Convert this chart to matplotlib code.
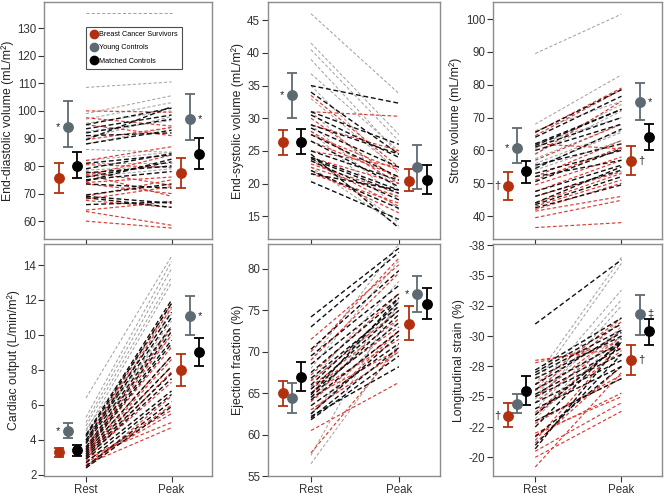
import numpy as np
import matplotlib.pyplot as plt

plt.rcParams['font.family'] = ['Liberation Sans', 'DejaVu Sans']

groups = ['Breast Cancer Survivors', 'Young Controls', 'Matched Controls']
phases = ['Rest', 'Peak']

# ---- individual subjects (rest -> peak) ----
edv_rest_bcs = [100, 97.5, 95, 89.5, 82, 80.5, 78, 76.5, 74, 73.5, 69, 68, 67.5, 64, 63.5, 60, 77]
edv_peak_bcs = [99.5, 94.5, 91, 94, 87, 79.5, 73, 84, 76, 70, 75, 72.5, 65, 67, 58.5, 57.5, 69]
edv_rest_yc = [135.5, 108.5, 99, 97, 95.5, 92.5, 90, 88, 86, 82, 81, 78.5, 76]
edv_peak_yc = [135.5, 110.5, 105.5, 103, 100, 96.5, 98, 94, 85, 85, 81, 80, 79]
edv_rest_mc = [95, 93.5, 92, 91, 89.5, 88, 81, 79, 77.5, 76, 75, 74.5, 73.5, 69.5, 69, 68.5, 66]
edv_peak_mc = [101, 98.5, 97, 92, 101.5, 93, 84, 84.5, 80, 81.5, 78, 82.5, 72, 73.5, 66.5, 65, 67]

esv_rest_bcs = [33.5, 31, 30, 29, 27.5, 26.5, 25, 24, 23.5, 23, 22.5, 22, 21.5, 28]
esv_peak_bcs = [22.5, 30.3, 20.5, 25, 22, 21, 22.5, 20, 16.5, 18.5, 18, 15.5, 17, 20]
esv_rest_yc = [46, 41.5, 40.5, 39, 36.8, 35, 33, 31, 29, 28, 24, 22.5]
esv_peak_yc = [33.8, 27.5, 26.5, 24.5, 25, 21.5, 22, 19, 17.5, 16, 14, 13.5]
esv_rest_mc = [35, 34, 31, 30.5, 29, 28.5, 27.5, 26.5, 25, 24, 23.8, 23.5, 22, 21.5, 20.3, 24.5]
esv_peak_mc = [32.3, 24.5, 26, 24, 24.5, 22.5, 21, 19.5, 20.5, 19, 18.5, 17.5, 16.2, 19, 14.5, 13.2]

sv_rest_bcs = [65.5, 64.5, 62, 58.8, 57, 52, 51, 49.5, 47.5, 46, 44, 43, 42, 41.5, 39.5, 36.5]
sv_peak_bcs = [79, 78.5, 60.5, 75, 68, 63, 61, 58, 57, 53.5, 53, 51, 50, 46, 44.8, 38]
sv_rest_yc = [89.5, 68, 66, 62, 59, 57.5, 56, 55, 54, 60.5]
sv_peak_yc = [101.5, 83, 75, 70, 72, 68, 66, 65.5, 63, 74]
sv_rest_mc = [65.5, 64, 62, 61.5, 61, 60, 55.5, 54.5, 53, 52, 50.5, 47.5, 46, 44, 43.5, 42.5]
sv_peak_mc = [78.5, 76.5, 72.5, 72.5, 70, 68, 62, 66.5, 60, 57, 60.5, 55.5, 54, 55, 52, 49.5]

co_rest_bcs = [4.0, 3.8, 3.6, 3.5, 3.4, 3.3, 3.2, 3.1, 3.0, 2.9, 2.8, 2.7, 2.6, 2.5, 3.0, 2.4]
co_peak_bcs = [11.8, 11.6, 10.4, 10.0, 9.3, 8.8, 8.6, 8.2, 7.3, 7.9, 5.7, 5.5, 4.7, 6.0, 5.0, 6.5]
co_rest_yc = [6.4, 5.3, 5.0, 4.8, 4.5, 4.3, 4.2, 4.0, 3.9, 4.6]
co_peak_yc = [14.5, 14.2, 13.8, 13.3, 13.0, 11.2, 10.5, 10.0, 10.8, 11.5]
co_rest_mc = [4.3, 4.2, 4.0, 3.9, 3.8, 3.6, 3.5, 3.4, 3.3, 3.2, 3.1, 3.0, 2.9, 2.7, 2.5, 2.4]
co_peak_mc = [12.0, 11.8, 11.3, 11.0, 10.5, 10.2, 9.7, 9.5, 8.8, 8.2, 7.8, 7.5, 6.8, 6.6, 6.2, 5.9]

ef_rest_bcs = [71.5, 70, 69, 67.2, 66.5, 65.8, 65.5, 65, 64.5, 64, 63, 60.5, 57.8, 62.5]
ef_peak_bcs = [80.5, 81.3, 79.5, 77, 75, 74, 73, 71.5, 70.3, 72.5, 70, 66.3, 70.5, 72.5]
ef_rest_yc = [69, 68, 66.5, 65, 64, 62.5, 57.5, 56.5, 66.5, 63]
ef_peak_yc = [83, 81, 78.5, 76, 75.5, 74, 76.5, 71, 75, 70]
ef_rest_mc = [74.2, 73, 70.3, 69.5, 68.5, 67.5, 66.8, 66, 65.5, 65, 64.5, 64.2, 63.5, 62.5, 62, 61.8, 62.2, 64.8]
ef_peak_mc = [82.5, 82, 79.8, 78, 77, 76.5, 75.5, 76, 75, 73.5, 74.5, 72.5, 71, 72, 70.5, 69.5, 68.2, 76.5]

ls_rest_bcs = [-28, -27.8, -26, -25.5, -25, -24.5, -23.7, -23.5, -23, -22.8, -22, -21.8, -21.2, -20.5, -20, -19.2, -21.4]
ls_peak_bcs = [-29, -29.5, -31.5, -31.2, -30.5, -30, -29.5, -28.8, -26.5, -26.8, -25, -25.3, -27.5, -24.5, -23.8, -27, -29.5]
ls_rest_yc = [-26.5, -26, -25.5, -25, -24.5, -24.8, -24, -23.5, -25.5, -23.2]
ls_peak_yc = [-36.5, -36, -33.8, -33, -32.5, -31.5, -30.8, -30.5, -29.5, -30]
ls_rest_mc = [-31, -27.2, -27, -26.8, -26.5, -26, -25.6, -25.2, -25, -24.5, -24, -23.5, -23, -22.5, -21.7, -20.7, -21]
ls_peak_mc = [-36.3, -31.5, -31, -30.5, -30, -30.3, -29.5, -29, -28.5, -28, -27.5, -29.5, -26.5, -29.8, -27.5, -29.5, -28.5]

# ---- group means with error bar ends (BCS, YC, MC) ----
edv_mean_rest, edv_lo_rest, edv_hi_rest = [75.5, 94.3, 80.0], [70.3, 87.0, 75.5], [81.0, 103.5, 85.0]
edv_mean_peak, edv_lo_peak, edv_hi_peak = [77.3, 97.2, 84.5], [72.0, 89.5, 79.0], [83.0, 106.3, 90.2]
esv_mean_rest, esv_lo_rest, esv_hi_rest = [26.3, 33.5, 26.4], [24.4, 30.0, 24.5], [28.2, 37.0, 28.4]
esv_mean_peak, esv_lo_peak, esv_hi_peak = [20.4, 22.6, 20.5], [18.8, 19.2, 18.4], [22.2, 25.9, 22.9]
sv_mean_rest, sv_lo_rest, sv_hi_rest = [49.2, 60.6, 53.6], [45.0, 56.3, 50.2], [53.3, 66.8, 56.9]
sv_mean_peak, sv_lo_peak, sv_hi_peak = [56.8, 74.6, 64.0], [52.5, 69.2, 60.0], [61.3, 80.6, 68.0]
co_mean_rest, co_lo_rest, co_hi_rest = [3.3, 4.5, 3.4], [3.05, 4.1, 3.1], [3.55, 4.95, 3.7]
co_mean_peak, co_lo_peak, co_hi_peak = [8.0, 11.1, 9.0], [7.1, 10.0, 8.25], [8.9, 12.2, 9.8]
ef_mean_rest, ef_lo_rest, ef_hi_rest = [65.0, 64.4, 67.0], [63.4, 62.6, 65.3], [66.5, 66.2, 68.8]
ef_mean_peak, ef_lo_peak, ef_hi_peak = [73.4, 77.0, 75.8], [71.4, 74.8, 74.0], [75.5, 79.2, 77.7]
ls_mean_rest, ls_lo_rest, ls_hi_rest = [-23.45, -24.4, -25.5], [-22.4, -23.6, -24.3], [-24.4, -25.15, -26.65]
ls_mean_peak, ls_lo_peak, ls_hi_peak = [-28.0, -31.8, -30.4], [-26.7, -30.2, -29.4], [-29.2, -33.5, -31.5]

# significance marks: (phase, group index, side, symbol)
edv_marks = [(0, 1, 'left', '*'), (1, 1, 'right', '*')]
esv_marks = [(0, 1, 'left', '*')]
sv_marks = [(0, 0, 'left', '\u2020'), (0, 1, 'left', '*'), (1, 0, 'right', '\u2020'), (1, 1, 'right', '*')]
co_marks = [(0, 1, 'left', '*'), (1, 1, 'right', '*')]
ef_marks = [(1, 1, 'left', '*')]
ls_marks = [(0, 0, 'left', '\u2020'), (1, 0, 'right', '\u2020'), (1, 1, 'right', '\u2021')]

line_colors = ['#dc3b33', '#a3a3a3', '#111111']
mean_colors = ['#b3300f', '#5e6a72', '#000000']
rest_off = [-0.32, -0.21, -0.11]
peak_off = [0.11, 0.21, 0.32]

panels = [
    ('End-diastolic volume (mL/m\u00b2)', (edv_rest_bcs, edv_peak_bcs), (edv_rest_yc, edv_peak_yc), (edv_rest_mc, edv_peak_mc),
     (edv_mean_rest, edv_lo_rest, edv_hi_rest), (edv_mean_peak, edv_lo_peak, edv_hi_peak), edv_marks,
     (53.5, 139.5), np.arange(60, 131, 10), None),
    ('End-systolic volume (mL/m\u00b2)', (esv_rest_bcs, esv_peak_bcs), (esv_rest_yc, esv_peak_yc), (esv_rest_mc, esv_peak_mc),
     (esv_mean_rest, esv_lo_rest, esv_hi_rest), (esv_mean_peak, esv_lo_peak, esv_hi_peak), esv_marks,
     (11.5, 47.8), np.arange(15, 46, 5), None),
    ('Stroke volume (mL/m\u00b2)', (sv_rest_bcs, sv_peak_bcs), (sv_rest_yc, sv_peak_yc), (sv_rest_mc, sv_peak_mc),
     (sv_mean_rest, sv_lo_rest, sv_hi_rest), (sv_mean_peak, sv_lo_peak, sv_hi_peak), sv_marks,
     (33, 105.2), np.arange(40, 101, 10), None),
    ('Cardiac output (L/min/m\u00b2)', (co_rest_bcs, co_peak_bcs), (co_rest_yc, co_peak_yc), (co_rest_mc, co_peak_mc),
     (co_mean_rest, co_lo_rest, co_hi_rest), (co_mean_peak, co_lo_peak, co_hi_peak), co_marks,
     (1.93, 15.2), np.arange(2, 15, 2), None),
    ('Ejection fraction (%)', (ef_rest_bcs, ef_peak_bcs), (ef_rest_yc, ef_peak_yc), (ef_rest_mc, ef_peak_mc),
     (ef_mean_rest, ef_lo_rest, ef_hi_rest), (ef_mean_peak, ef_lo_peak, ef_hi_peak), ef_marks,
     (55, 83), np.arange(55, 81, 5), None),
    ('Longitudinal strain (%)', (ls_rest_bcs, ls_peak_bcs), (ls_rest_yc, ls_peak_yc), (ls_rest_mc, ls_peak_mc),
     (ls_mean_rest, ls_lo_rest, ls_hi_rest), (ls_mean_peak, ls_lo_peak, ls_hi_peak), ls_marks,
     (-18.45, -37.6), np.arange(-37.5, -19.9, 2.5), ['-38', '-35', '-32', '-30', '-28', '-25', '-22', '-20']),
]

# axes boxes in figure fractions (left, bottom, width, height)
col_x = [(0.066, 0.251), (0.401, 0.258), (0.738, 0.253)]
row_y = [(0.519, 0.477), (0.042, 0.467)]

fig = plt.figure(figsize=(6.68, 4.97), dpi=100)

for i, (ylab, bcs, yc, mc, mrest, mpeak, marks, ylim, yticks, ylabels) in enumerate(panels):
    r, c = divmod(i, 3)
    ax = fig.add_axes([col_x[c][0], row_y[r][0], col_x[c][1], row_y[r][1]])

    # individual subjects
    for g, (rest, peak), lw, dash in [(1, yc, 0.75, (3, 2)), (0, bcs, 0.85, (3, 2)), (2, mc, 1.0, (3.5, 2))]:
        for a, b in zip(rest, peak):
            ax.plot([1, 2], [a, b], color=line_colors[g], lw=lw, dashes=dash, zorder=2)

    # group means
    for phase, (means, lo, hi), offs in [(1, mrest, rest_off), (2, mpeak, peak_off)]:
        for g in range(3):
            m = means[g]
            ax.errorbar(phase + offs[g], m, yerr=[[abs(m - lo[g])], [abs(hi[g] - m)]],
                        fmt='o', color=mean_colors[g], ms=6.8, elinewidth=1.3,
                        capsize=3.8, capthick=1.3, zorder=5)

    for ph, g, side, sym in marks:
        x0 = (1 + rest_off[g]) if ph == 0 else (2 + peak_off[g])
        means = mrest[0] if ph == 0 else mpeak[0]
        dx = -0.12 if side == 'left' else 0.12
        ax.text(x0 + dx, means[g], sym, ha='center', va='center', fontsize=8, color='#222222', zorder=6)

    ax.set_xlim(0.51, 2.47)
    ax.set_ylim(*ylim)
    ax.set_yticks(yticks)
    if ylabels is not None:
        ax.set_yticklabels(ylabels)
    ax.set_xticks([1, 2])
    if r == 1:
        ax.set_xticklabels(phases)
    else:
        ax.set_xticklabels([])
    ax.set_ylabel(ylab, fontsize=8.8, color='#222222', labelpad=2.5)
    ax.tick_params(axis='both', labelsize=8.3, colors='#333333', length=4, width=0.8, pad=1.5)
    for s in ax.spines.values():
        s.set_color('#8c8c8c')
        s.set_linewidth(1.0)

    if i == 0:
        handles = [plt.Line2D([], [], marker='o', ls='', color=mean_colors[g], ms=6) for g in range(3)]
        leg = ax.legend(handles, groups, loc='upper left', bbox_to_anchor=(0.25, 0.895), fontsize=5.2,
                        frameon=True, fancybox=False, edgecolor='#222222', handletextpad=0.2,
                        borderpad=0.6, labelspacing=0.85, handlelength=1.0, borderaxespad=0)
        leg.get_frame().set_linewidth(0.8)

fig.savefig('out.png', dpi=100)
